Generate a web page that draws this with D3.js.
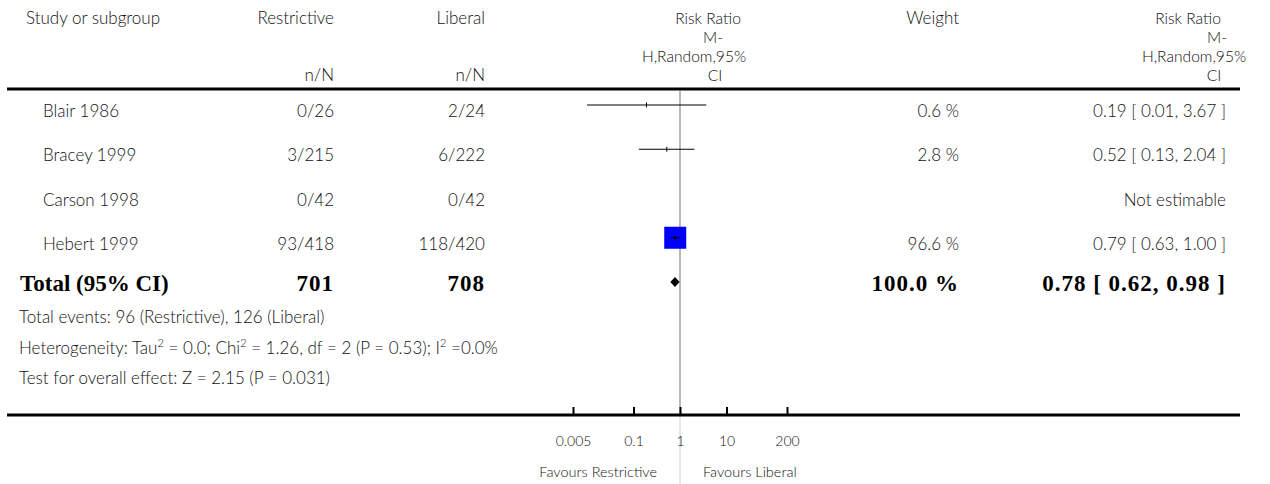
<!DOCTYPE html>
<html>
<head>
<meta charset="utf-8">
<script src="https://cdn.jsdelivr.net/npm/d3@7"></script>
<style>
  html, body { margin: 0; padding: 0; background: #fff; }
  svg { display: block; }
  .t { font-family: "Lato", "Open Sans", sans-serif; font-weight: 300; font-size: 17px; fill: #111; }
  .rrh { font-size: 15.6px; }
  .b { font-family: "Liberation Serif", "DejaVu Serif", serif; font-weight: bold; font-size: 23px; fill: #000; }
  .num { letter-spacing: 1px; }
  .tick text { font-family: "Lato", "Open Sans", sans-serif; font-weight: 300; font-size: 14px; fill: #111; }
  .fav { font-size: 14.5px; }
</style>
</head>
<body>
<svg id="chart" width="1270" height="484"></svg>
<script>
// Trials in the meta-analysis
const studies = ["Blair 1986", "Bracey 1999", "Carson 1998", "Hebert 1999"];
const restrictiveEvents = [0, 3, 0, 93];
const restrictiveTotal = [26, 215, 42, 418];
const liberalEvents = [2, 6, 0, 118];
const liberalTotal = [24, 222, 42, 420];
const riskRatio = [0.19, 0.52, null, 0.79];
const ciLow = [0.01, 0.13, null, 0.63];
const ciHigh = [3.67, 2.04, null, 1.00];
const weights = [0.6, 2.8, null, 96.6];

// Pooled estimate
const pooled = { rr: 0.78, lo: 0.62, hi: 0.98, weight: 100.0 };
const totalRestrictive = 701;
const totalLiberal = 708;

// Axis
const tickValues = [0.005, 0.1, 1, 10, 200];
const tickLabels = ["0.005", "0.1", "1", "10", "200"];

const svg = d3.select("#chart");

const x = d3.scaleLog().domain([0.005, 200]).range([573, 787]);
const rowY = d3.scaleLinear().domain([0, 4]).range([105, 282]);
const boxSide = d3.scaleSqrt().domain([0, 96.6]).range([0, 22]);

const colRestr = 334, colLib = 485, colWeight = 959, colRR = 1226, colName = 43;

// ---- Header ----
const head = svg.append("g");
head.append("text").attr("class", "t").attr("x", 26).attr("y", 24).text("Study or subgroup");
head.append("text").attr("class", "t").attr("x", colRestr).attr("y", 24).attr("text-anchor", "end").text("Restrictive");
head.append("text").attr("class", "t").attr("x", colLib).attr("y", 24).attr("text-anchor", "end").text("Liberal");
head.append("text").attr("class", "t").attr("x", colRestr).attr("y", 81).attr("text-anchor", "end").text("n/N");
head.append("text").attr("class", "t").attr("x", colLib).attr("y", 81).attr("text-anchor", "end").text("n/N");
head.append("text").attr("class", "t").attr("x", colWeight).attr("y", 24).attr("text-anchor", "end").text("Weight");

const rrHeadLines = ["Risk Ratio", "M-", "H,Random,95%", "CI"];
const rrHeadY = [23.5, 42.5, 61.5, 80.5];
const leftCenters = [708, 713, 694, 715];
const rightCenters = [1188, 1217, 1194, 1214];
rrHeadLines.forEach((s, i) => {
  head.append("text").attr("class", "t rrh").attr("x", leftCenters[i]).attr("y", rrHeadY[i])
    .attr("text-anchor", "middle").text(s);
  head.append("text").attr("class", "t rrh").attr("x", rightCenters[i]).attr("y", rrHeadY[i])
    .attr("text-anchor", "middle").text(s);
});

// Rules
svg.append("line").attr("x1", 7).attr("x2", 1240).attr("y1", 89).attr("y2", 89)
  .attr("stroke", "#000").attr("stroke-width", 3);

// Line of no effect
svg.append("line").attr("x1", x(1)).attr("x2", x(1)).attr("y1", 90).attr("y2", 414)
  .attr("stroke", "#8a8a8a").attr("stroke-width", 1.2);
svg.append("line").attr("x1", x(1)).attr("x2", x(1)).attr("y1", 416).attr("y2", 484)
  .attr("stroke", "#d0d0d0").attr("stroke-width", 1);

// ---- Study rows ----
const fmt2 = d3.format(".2f");
studies.forEach((name, i) => {
  const cy = rowY(i);
  const ty = cy + 12;
  svg.append("text").attr("class", "t").attr("x", colName).attr("y", ty).text(name);
  svg.append("text").attr("class", "t").attr("x", colRestr).attr("y", ty).attr("text-anchor", "end")
    .text(restrictiveEvents[i] + "/" + restrictiveTotal[i]);
  svg.append("text").attr("class", "t").attr("x", colLib).attr("y", ty).attr("text-anchor", "end")
    .text(liberalEvents[i] + "/" + liberalTotal[i]);
  if (riskRatio[i] == null) {
    svg.append("text").attr("class", "t").attr("x", colRR).attr("y", ty).attr("text-anchor", "end")
      .text("Not estimable");
    return;
  }
  svg.append("text").attr("class", "t").attr("x", colWeight).attr("y", ty).attr("text-anchor", "end")
    .text(d3.format(".1f")(weights[i]) + " %");
  svg.append("text").attr("class", "t").attr("x", colRR).attr("y", ty).attr("text-anchor", "end")
    .text(`${fmt2(riskRatio[i])} [ ${fmt2(ciLow[i])}, ${fmt2(ciHigh[i])} ]`);

  const s = boxSide(weights[i]);
  if (s > 4) {
    svg.append("rect").attr("x", x(riskRatio[i]) - s / 2).attr("y", cy - s / 2)
      .attr("width", s).attr("height", s).attr("fill", "#0000ff");
  }
  svg.append("line").attr("x1", x(ciLow[i])).attr("x2", x(ciHigh[i])).attr("y1", cy).attr("y2", cy)
    .attr("stroke", "#000").attr("stroke-width", 1.2);
  svg.append("line").attr("x1", x(riskRatio[i])).attr("x2", x(riskRatio[i])).attr("y1", cy - 2.5).attr("y2", cy + 2.5)
    .attr("stroke", "#000").attr("stroke-width", 1);
});

// ---- Total row ----
const totY = rowY(4);
const totTy = totY + 9;
svg.append("text").attr("class", "b").attr("x", 20).attr("y", totTy).text("Total (95% CI)");
svg.append("text").attr("class", "b num").attr("x", colRestr).attr("y", totTy).attr("text-anchor", "end").text(totalRestrictive);
svg.append("text").attr("class", "b num").attr("x", colLib).attr("y", totTy).attr("text-anchor", "end").text(totalLiberal);
svg.append("text").attr("class", "b num").attr("x", colWeight).attr("y", totTy).attr("text-anchor", "end")
  .text(d3.format(".1f")(pooled.weight) + " %");
svg.append("text").attr("class", "b num").attr("x", colRR).attr("y", totTy).attr("text-anchor", "end")
  .text(`${fmt2(pooled.rr)} [ ${fmt2(pooled.lo)}, ${fmt2(pooled.hi)} ]`);

const dh = 5;
svg.append("path")
  .attr("d", `M${x(pooled.lo)},${totY} L${x(pooled.rr)},${totY - dh} L${x(pooled.hi)},${totY} L${x(pooled.rr)},${totY + dh} Z`)
  .attr("fill", "#000");

// ---- Summary statistics ----
const stats = svg.append("g");
stats.append("text").attr("class", "t").attr("x", 19).attr("y", 323)
  .text("Total events: 96 (Restrictive), 126 (Liberal)");
const het = stats.append("text").attr("class", "t").attr("x", 19).attr("y", 354);
const sup = (el, s) => el.append("tspan").attr("font-size", "11px").attr("dy", -7).text(s);
const norm = (el, s) => el.append("tspan").attr("dy", 7).text(s);
het.append("tspan").text("Heterogeneity: Tau");
sup(het, "2");
norm(het, " = 0.0; Chi");
sup(het, "2");
norm(het, " = 1.26, df = 2 (P = 0.53); I");
sup(het, "2");
norm(het, " =0.0%");
stats.append("text").attr("class", "t").attr("x", 19).attr("y", 384)
  .text("Test for overall effect: Z = 2.15 (P = 0.031)");

// ---- Bottom axis ----
svg.append("line").attr("x1", 7).attr("x2", 1240).attr("y1", 415).attr("y2", 415)
  .attr("stroke", "#000").attr("stroke-width", 3);
const axis = d3.axisBottom(x).tickValues(tickValues)
  .tickFormat((d, i) => tickLabels[i]).tickSize(-7).tickPadding(22);
const ag = svg.append("g").attr("transform", "translate(0,414)").call(axis);
ag.select(".domain").remove();
ag.selectAll(".tick line").attr("stroke", "#000").attr("stroke-width", 2);

svg.append("text").attr("class", "t fav").attr("x", x(1) - 23).attr("y", 477)
  .attr("text-anchor", "end").text("Favours Restrictive");
svg.append("text").attr("class", "t fav").attr("x", x(1) + 23).attr("y", 477)
  .text("Favours Liberal");
</script>
</body>
</html>
